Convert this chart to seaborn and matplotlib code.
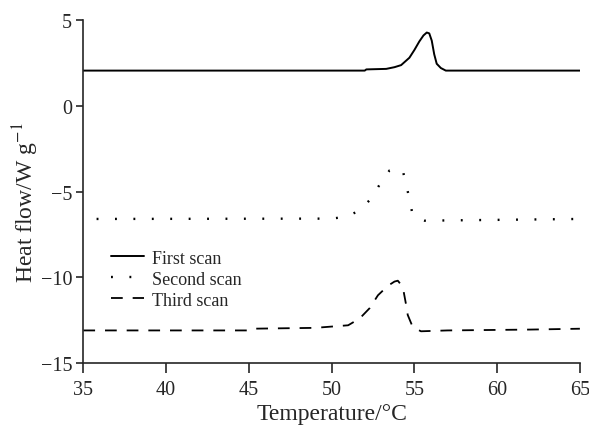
import matplotlib
matplotlib.use("Agg")
import matplotlib.pyplot as plt
import seaborn as sns

# DSC scans (temperature in C, heat flow in W/g)
t_first = [35, 52.0, 52.1, 53.3, 53.8, 54.2, 54.7, 55.0, 55.3, 55.55, 55.75, 55.9, 56.05, 56.2, 56.35, 56.6, 56.9, 65]
h_first = [2.05, 2.05, 2.12, 2.15, 2.25, 2.37, 2.8, 3.25, 3.75, 4.1, 4.27, 4.22, 3.8, 3.0, 2.45, 2.2, 2.05, 2.05]

t_second = [35.8, 50.0, 50.9, 51.7, 52.4, 52.9, 53.5, 53.9, 54.3, 54.5, 54.7, 54.86, 55.2, 55.6, 65]
h_second = [-6.6, -6.58, -6.47, -6.1, -5.4, -4.6, -3.77, -3.65, -3.77, -4.6, -5.4, -6.2, -6.6, -6.7, -6.6]

t_third = [35, 44.9, 45.1, 49, 51, 51.7, 52.3, 52.8, 53.4, 53.8, 54.0, 54.3, 54.5, 54.6, 54.9, 55.4, 57, 62, 65]
h_third = [-13.1, -13.1, -13.0, -12.95, -12.8, -12.4, -11.8, -11.05, -10.5, -10.25, -10.2, -10.56, -11.6, -12.2, -12.9, -13.15, -13.1, -13.05, -13.0]

labels = ["First scan", "Second scan", "Third scan"]

sns.set_style("ticks")
plt.rcParams['font.family'] = ['Liberation Serif', 'DejaVu Serif']
plt.rcParams['mathtext.fontset'] = 'stix'

fig = plt.figure(figsize=(5.89, 4.27), dpi=100)
ax = fig.add_axes([0.1415, 0.1475, 0.843, 0.8033])

sns.lineplot(x=t_first, y=h_first, ax=ax, color="black", lw=1.4,
             linestyle="-", label=labels[0], sort=False)
sns.lineplot(x=t_second, y=h_second, ax=ax, color="black", lw=1.7,
             linestyle=(0, (0.8, 7.0)), label=labels[1], sort=False)
sns.lineplot(x=t_third, y=h_third, ax=ax, color="black", lw=1.3,
             linestyle=(0, (6.5, 5.5)), label=labels[2], sort=False)

ax.set_xlim(35, 65)
ax.set_ylim(-15, 5)
ax.set_xticks([35, 40, 45, 50, 55, 60, 65])
ax.set_yticks([-15, -10, -5, 0, 5])
ax.set_yticklabels(["\u221215", "\u221210", "\u22125", "0", "5"])
sns.despine(ax=ax)
ax.spines["left"].set_linewidth(1.2)
ax.spines["bottom"].set_linewidth(1.2)
ax.tick_params(axis="x", direction="out", length=7, width=1.2, labelsize=14.5, pad=5)
ax.tick_params(axis="y", direction="out", length=5, width=1.2, labelsize=14.5, pad=3)

ax.set_xlabel("Temperature/\u00b0C", fontsize=17, labelpad=3)
ax.set_ylabel("Heat flow/W g$^{-1}$", fontsize=17)
ax.yaxis.set_label_coords(-0.085, 0.47)

ax.legend(loc="upper left", bbox_to_anchor=(0.038, 0.357), frameon=False,
          fontsize=13, handlelength=1.8, handletextpad=0.45, labelspacing=0.22,
          borderpad=0)

fig.savefig("out.png", dpi=100)
